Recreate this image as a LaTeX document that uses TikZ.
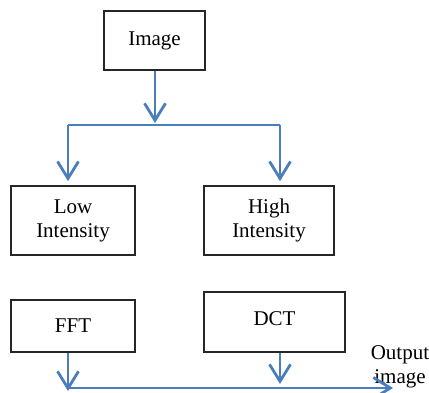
\documentclass[tikz,border=0pt]{standalone}
\usepackage{fontspec}
\setmainfont{Liberation Serif}
\usetikzlibrary{arrows.meta}
\definecolor{flowblue}{HTML}{4A7EBB}
\begin{document}
\begin{tikzpicture}[x=1pt,y=1pt,
  box/.style={draw=black!85,line width=1.8pt,align=center,inner sep=0pt,
    font=\fontsize{21}{24}\selectfont},
  flow/.style={draw=flowblue,line width=2.8pt},
  flowarrow/.style={flow,-{Straight Barb[length=17pt,width=21pt,line width=2.8pt]}},
  lbl/.style={align=center,inner sep=0pt,font=\fontsize{21}{24}\selectfont}]
\useasboundingbox (0,0) rectangle (429,-393);
\node[box,minimum width=101pt,minimum height=59pt] (img) at (154.5,-40.5) {\raisebox{3pt}{Image}};
\node[box,minimum width=124pt,minimum height=69pt] (low) at (73,-220.5) {Low\\Intensity};
\node[box,minimum width=130pt,minimum height=69pt] (high) at (269,-220.5) {High\\Intensity};
\node[box,minimum width=124pt,minimum height=52pt] (fft) at (73,-326) {FFT};
\node[box,minimum width=141pt,minimum height=60pt] (dct) at (274.5,-322) {\raisebox{6pt}{DCT}};
\node[lbl] (out) at (400,-367) {Output\\image};
\coordinate (jc) at (155,-125);
\coordinate (jl) at (68,-125);
\coordinate (jr) at (280,-125);
\coordinate (bl) at (68,-388);
\coordinate (br) at (393,-388);
\draw[flowarrow] (img.south -| jc) -- ([yshift=2pt]jc);
\draw[flow] (jl) -- (jr);
\draw[flowarrow] (jl) -- ([yshift=4pt]jl |- low.north);
\draw[flowarrow] (jr) -- ([yshift=4pt]jr |- high.north);
\draw[flowarrow] (fft.south -| jl) -- ([yshift=-3pt]bl);
\draw[flowarrow] (dct.south -| jr) -- ([yshift=4pt]jr |- bl);
\draw[flowarrow] (bl) -- (br);
\end{tikzpicture}
\end{document}
